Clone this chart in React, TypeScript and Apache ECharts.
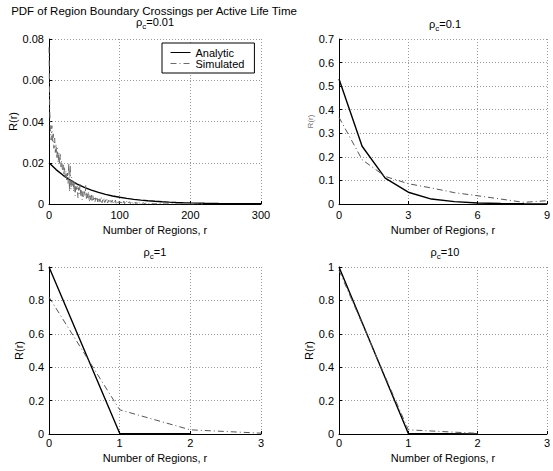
import React, { useEffect, useRef } from 'react';
import * as echarts from 'echarts';

const FONT = '"Liberation Sans", Arial, Helvetica, sans-serif';

// ---------- data ----------
const MAIN_TITLE = 'PDF of Region Boundary Crossings per Active Life Time';
const RHO_VALUES = ['0.01', '0.1', '1', '10'];
const SERIES_NAMES = ['Analytic', 'Simulated'];
const X_NAME = 'Number of Regions, r';
const Y_NAME = 'R(r)';

// rho_c = 0.01
const R_001_ANALYTIC = [0, 10, 20, 30, 40, 50, 60, 70, 80, 90, 100, 110, 120, 130, 140, 150, 160, 170, 180, 190, 200, 220, 240, 260, 280, 300];
const ANALYTIC_001 = [0.02, 0.01668, 0.01391, 0.0116, 0.00967, 0.00806, 0.00673, 0.00561, 0.00468, 0.0039, 0.00325, 0.00271, 0.00226, 0.00189, 0.00157, 0.00131, 0.00109, 0.00091, 0.00076, 0.00063, 0.00053, 0.00037, 0.00026, 0.00018, 0.00012, 0.00009];
// index = r (0..219)
const SIMULATED_001 = [
  0.076, 0.046, 0.036, 0.031, 0.038, 0.030, 0.034, 0.027, 0.032, 0.025,
  0.029, 0.022, 0.027, 0.020, 0.025, 0.019, 0.024, 0.018, 0.021, 0.016,
  0.019, 0.014, 0.018, 0.013, 0.016, 0.011, 0.015, 0.010, 0.020, 0.006,
  0.019, 0.007, 0.013, 0.009, 0.012, 0.006, 0.011, 0.004, 0.010, 0.007,
  0.009, 0.003, 0.008, 0.005, 0.010, 0.004, 0.007, 0.002, 0.006, 0.003,
  0.006, 0.004, 0.009, 0.002, 0.005, 0.003, 0.006, 0.001, 0.004, 0.002,
  0.005, 0.001, 0.004, 0.002, 0.0035, 0.001, 0.003, 0.0015, 0.0035, 0.001,
  0.003, 0.0008, 0.0025, 0.0012, 0.003, 0.0006, 0.002, 0.001, 0.0028, 0.0007,
  0.002, 0.0009, 0.0024, 0.0005, 0.0018, 0.001, 0.0022, 0.0004, 0.0016, 0.0008,
  0.0021, 0.0005, 0.0015, 0.0009, 0.0019, 0.0003, 0.0014, 0.0007, 0.0017, 0.0004,
  0.0013, 0.0006, 0.0016, 0.0003, 0.0012, 0.0007, 0.0014, 0.0002, 0.001, 0.0005,
  0.0013, 0.0003, 0.0009, 0.0006, 0.0011, 0.0002, 0.0008, 0.0004, 0.001, 0.0002,
  0.0008, 0.0004, 0.0009, 0.0001, 0.0007, 0.0003, 0.0008, 0.0002, 0.0006, 0.0003,
  0.0007, 0.0001, 0.0005, 0.0003, 0.0006, 0.0001, 0.0005, 0.0002, 0.0004, 0.0001,
  0.0005, 0.0002, 0.0004, 0.0001, 0.0004, 0.0002, 0.0003, 0.0001, 0.0003, 0.0001,
  0.0003, 0.0001, 0.0002, 0.0, 0.0003, 0.0001, 0.0002, 0.0001, 0.0002, 0.0,
  0.0002, 0.0001, 0.0002, 0.0, 0.0002, 0.0001, 0.0001, 0.0, 0.0002, 0.0001,
  0.0001, 0.0, 0.0001, 0.0001, 0.0002, 0.0, 0.0001, 0.0, 0.0001, 0.0001,
  0.0001, 0.0, 0.0001, 0.0, 0.0001, 0.0, 0.0001, 0.0, 0.0001, 0.0,
  0.0001, 0.0, 0.0001, 0.0, 0.0, 0.0001, 0.0, 0.0, 0.0001, 0.0,
  0.0, 0.0001, 0.0, 0.0, 0.0, 0.0, 0.0, 0.0, 0.0, 0.0,
  0.0, 0.0, 0.0, 0.0, 0.0, 0.0, 0.0, 0.0, 0.0, 0.0,
];

// rho_c = 0.1
const R_01 = [0, 1, 2, 3, 4, 5, 6, 7, 8, 9];
const ANALYTIC_01 = [0.53, 0.245, 0.11, 0.05, 0.021, 0.01, 0.004, 0.002, 0.001, 0.0004];
const SIMULATED_01 = [0.368, 0.188, 0.117, 0.086, 0.068, 0.048, 0.035, 0.021, 0.007, 0.014];

// rho_c = 1
const R_1_ANALYTIC = [0, 1, 2];
const ANALYTIC_1 = [1, 0.004, 0.002];
const R_1_SIMULATED = [0, 1, 2, 3];
const SIMULATED_1 = [0.82, 0.145, 0.025, 0.005];

// rho_c = 10
const R_10 = [0, 1, 2];
const ANALYTIC_10 = [1, 0.003, 0.001];
const SIMULATED_10 = [0.98, 0.025, 0.004];

// tick values
const X_TICKS = [
  [0, 100, 200, 300],
  [0, 3, 6, 9],
  [0, 1, 2, 3],
  [0, 1, 2, 3],
];
const Y_TICKS = [
  [0, 0.02, 0.04, 0.06, 0.08],
  [0, 0.1, 0.2, 0.3, 0.4, 0.5, 0.6, 0.7],
  [0, 0.2, 0.4, 0.6, 0.8, 1],
  [0, 0.2, 0.4, 0.6, 0.8, 1],
];

// ---------- layout ----------
const GRIDS = [
  { left: 49, top: 39, width: 212, height: 165 },
  { left: 339, top: 39, width: 213, height: 165 },
  { left: 49, top: 267, width: 212, height: 167 },
  { left: 339, top: 267, width: 213, height: 167 },
];
const Y_NAME_GAPS = [31, 23, 24, 24];
const X_NAME_GAPS = [20.5, 20.5, 18, 18];
const X_LABEL_MARGINS = [5.5, 5.5, 3, 3];
// subplot title positions: [centerX, top]
const RHO_TITLE_POS = [
  [155, 14],
  [445, 16],
  [155, 244],
  [445, 244],
];

const pairs = (xs: number[], ys: number[]) => ys.map((y, i) => [xs[i], y]);
const indexPairs = (ys: number[]) => ys.map((y, i) => [i, y]);

const analyticStyle = { color: '#000', width: 1.4, type: 'solid' as const };
const simulatedStyle = { color: '#555', width: 1, type: [6, 3, 1, 3] };

function buildOption() {
  const grid = GRIDS.map((g) => ({ ...g, containLabel: false }));
  const xAxis = X_TICKS.map((ticks, i) => ({
    type: 'value',
    gridIndex: i,
    min: ticks[0],
    max: ticks[ticks.length - 1],
    interval: ticks[1] - ticks[0],
    name: X_NAME,
    nameLocation: 'middle',
    nameGap: X_NAME_GAPS[i],
    nameTextStyle: { fontFamily: FONT, fontSize: 11, color: '#000' },
    axisLine: { show: true, onZero: false, lineStyle: { color: '#000', width: 1 } },
    axisTick: { show: true, inside: true, length: 3, lineStyle: { color: '#000' } },
    axisLabel: { fontFamily: FONT, fontSize: 11, color: '#000', margin: X_LABEL_MARGINS[i] },
    splitLine: { show: true, lineStyle: { color: '#999', width: 1, type: [1, 2] } },
  }));
  const yAxis = Y_TICKS.map((ticks, i) => ({
    type: 'value',
    gridIndex: i,
    min: ticks[0],
    max: ticks[ticks.length - 1],
    interval: ticks[1] - ticks[0],
    name: Y_NAME,
    nameLocation: 'middle',
    nameRotate: 90,
    nameGap: Y_NAME_GAPS[i],
    nameTextStyle:
      i === 1
        ? { fontFamily: FONT, fontSize: 8, color: '#777' }
        : { fontFamily: FONT, fontSize: 11, color: '#000' },
    axisLine: { show: true, onZero: false, lineStyle: { color: '#000', width: 1 } },
    axisTick: { show: true, inside: true, length: 3, lineStyle: { color: '#000' } },
    axisLabel: { fontFamily: FONT, fontSize: 11, color: '#000', margin: 5 },
    splitLine: { show: true, lineStyle: { color: '#999', width: 1, type: [1, 2] } },
  }));

  const mk = (name: string, idx: number, data: number[][], style: any) => ({
    name,
    type: 'line',
    xAxisIndex: idx,
    yAxisIndex: idx,
    data,
    symbol: 'none',
    showSymbol: false,
    lineStyle: style,
    itemStyle: { color: style.color },
    emphasis: { disabled: true },
    clip: true,
  });

  const series = [
    mk(SERIES_NAMES[0], 0, pairs(R_001_ANALYTIC, ANALYTIC_001), analyticStyle),
    mk(SERIES_NAMES[1], 0, indexPairs(SIMULATED_001), { ...simulatedStyle, color: '#6a6a6a' }),
    mk(SERIES_NAMES[0], 1, pairs(R_01, ANALYTIC_01), analyticStyle),
    mk(SERIES_NAMES[1], 1, pairs(R_01, SIMULATED_01), simulatedStyle),
    mk(SERIES_NAMES[0], 2, pairs(R_1_ANALYTIC, ANALYTIC_1), analyticStyle),
    mk(SERIES_NAMES[1], 2, pairs(R_1_SIMULATED, SIMULATED_1), simulatedStyle),
    mk(SERIES_NAMES[0], 3, pairs(R_10, ANALYTIC_10), analyticStyle),
    mk(SERIES_NAMES[1], 3, pairs(R_10, SIMULATED_10), simulatedStyle),
  ];

  const rich = {
    r: { fontFamily: FONT, fontSize: 11, color: '#000', lineHeight: 16, verticalAlign: 'middle' },
    s: { fontFamily: FONT, fontSize: 8, color: '#000', lineHeight: 8, verticalAlign: 'bottom' },
  };
  const rhoTitle = (v: string, pos: number[]) => ({
    type: 'text',
    x: pos[0],
    y: pos[1],
    style: {
      text: `{r|ρ}{s|c}{r|=${v}}`,
      rich,
      align: 'center',
      verticalAlign: 'top',
      textAlign: 'center',
      textVerticalAlign: 'top',
    },
  });

  const graphic = [
    {
      type: 'text',
      x: 154,
      y: 5,
      style: {
        text: MAIN_TITLE,
        font: `11.5px ${FONT}`,
        fill: '#000',
        align: 'center',
        verticalAlign: 'top',
        textAlign: 'center',
        textVerticalAlign: 'top',
      },
    },
    ...RHO_VALUES.map((v, i) => rhoTitle(v, RHO_TITLE_POS[i])),
  ];

  return {
    animation: false,
    backgroundColor: '#fff',
    grid,
    xAxis,
    yAxis,
    series,
    graphic,
    legend: {
      show: true,
      data: SERIES_NAMES,
      orient: 'vertical',
      left: 162,
      top: 43,
      padding: [4, 10, 4, 8],
      itemGap: 0,
      itemWidth: 20,
      itemHeight: 11,
      borderColor: '#000',
      borderWidth: 1,
      backgroundColor: '#fff',
      selectedMode: false,
      itemStyle: { opacity: 0 },
      lineStyle: { width: 1 },
      textStyle: { fontFamily: FONT, fontSize: 11, color: '#000', lineHeight: 11 },
    },
  };
}

export default function App() {
  const ref = useRef<HTMLDivElement>(null);
  useEffect(() => {
    if (!ref.current) return;
    const chart = echarts.init(ref.current, undefined, { renderer: 'svg' });
    chart.setOption(buildOption() as any);
    return () => chart.dispose();
  }, []);
  return (
    <div
      ref={ref}
      style={{ position: 'fixed', left: 0, top: 0, width: 553, height: 471, background: '#fff' }}
    />
  );
}
